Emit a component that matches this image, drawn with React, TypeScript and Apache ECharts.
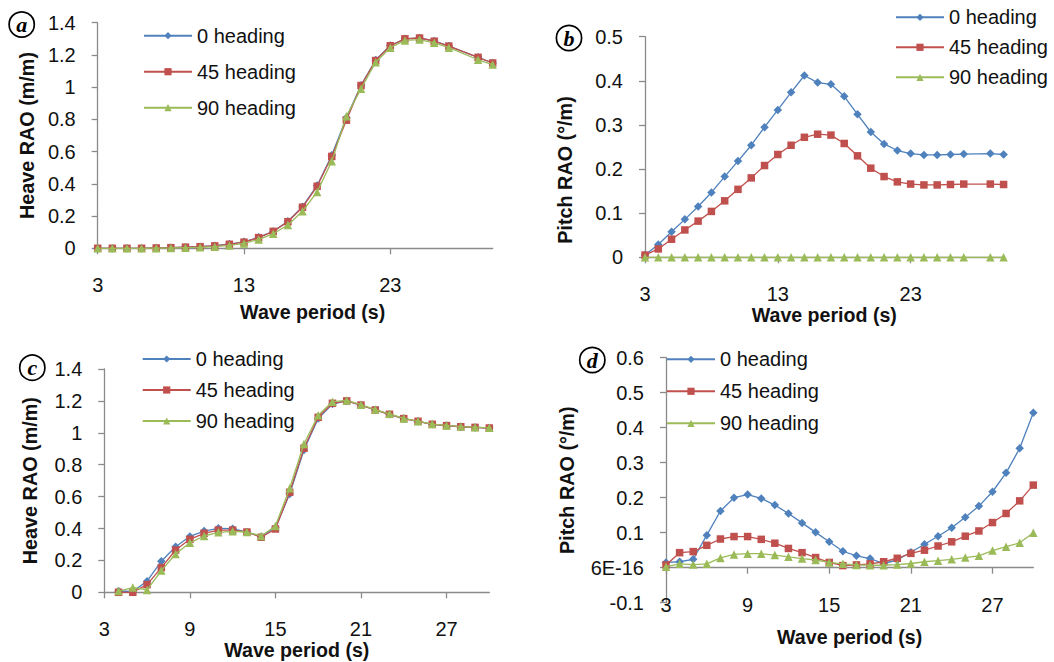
import React, { useEffect, useRef } from "react";
import * as echarts from "echarts";

// ---------- data ----------
const headingNames = ["0 heading", "45 heading", "90 heading"];

// Panel a: heave RAO
const periodsA = [3, 4, 5, 6, 7, 8, 9, 10, 11, 12, 13, 14, 15, 16, 17, 18, 19, 20, 21, 22, 23, 24, 25, 26, 27, 29, 30];
const heaveA0 = [0, 0, 0, 0, 0.002, 0.004, 0.007, 0.01, 0.016, 0.026, 0.04, 0.068, 0.105, 0.168, 0.258, 0.39, 0.578, 0.81, 1.012, 1.168, 1.258, 1.3, 1.305, 1.287, 1.255, 1.185, 1.15];
const heaveA45 = [0, 0, 0, 0, 0.002, 0.004, 0.007, 0.01, 0.015, 0.025, 0.038, 0.066, 0.105, 0.165, 0.255, 0.385, 0.57, 0.795, 1.01, 1.165, 1.257, 1.3, 1.305, 1.285, 1.255, 1.185, 1.15];
const heaveA90 = [0, 0, 0, 0, 0.001, 0.002, 0.004, 0.006, 0.01, 0.018, 0.03, 0.055, 0.09, 0.145, 0.23, 0.35, 0.54, 0.82, 0.99, 1.155, 1.245, 1.29, 1.295, 1.275, 1.245, 1.17, 1.14];

// Panel b: pitch RAO
const periodsB = [3, 4, 5, 6, 7, 8, 9, 10, 11, 12, 13, 14, 15, 16, 17, 18, 19, 20, 21, 22, 23, 24, 25, 26, 27, 29, 30];
const pitchB0 = [0.005, 0.029, 0.058, 0.086, 0.115, 0.147, 0.183, 0.218, 0.254, 0.295, 0.334, 0.374, 0.412, 0.396, 0.392, 0.365, 0.324, 0.284, 0.257, 0.242, 0.235, 0.232, 0.232, 0.233, 0.234, 0.235, 0.233];
const pitchB45 = [0.005, 0.019, 0.041, 0.062, 0.082, 0.104, 0.128, 0.154, 0.18, 0.208, 0.233, 0.254, 0.272, 0.279, 0.277, 0.258, 0.23, 0.202, 0.183, 0.171, 0.166, 0.164, 0.164, 0.165, 0.166, 0.166, 0.165];
const pitchB90 = [0, 0, 0, 0, 0, 0, 0, 0, 0, 0, 0, 0, 0, 0, 0, 0, 0, 0, 0, 0, 0, 0, 0, 0, 0, 0, 0];

// Panel c: heave RAO
const periodsC = [4, 5, 6, 7, 8, 9, 10, 11, 12, 13, 14, 15, 16, 17, 18, 19, 20, 21, 22, 23, 24, 25, 26, 27, 28, 29, 30];
const heaveC0 = [0.008, 0.005, 0.07, 0.195, 0.286, 0.35, 0.384, 0.401, 0.399, 0.378, 0.349, 0.405, 0.616, 0.892, 1.09, 1.18, 1.2, 1.174, 1.143, 1.116, 1.089, 1.072, 1.053, 1.045, 1.038, 1.034, 1.03];
const heaveC45 = [0, 0, 0.048, 0.155, 0.265, 0.332, 0.37, 0.39, 0.39, 0.378, 0.345, 0.397, 0.627, 0.903, 1.097, 1.185, 1.2, 1.174, 1.143, 1.116, 1.089, 1.072, 1.053, 1.045, 1.038, 1.034, 1.03];
const heaveC90 = [0.008, 0.03, 0.015, 0.136, 0.24, 0.31, 0.353, 0.376, 0.382, 0.378, 0.353, 0.416, 0.652, 0.93, 1.11, 1.195, 1.203, 1.176, 1.146, 1.119, 1.09, 1.073, 1.055, 1.046, 1.039, 1.035, 1.031];

// Panel d: pitch RAO
const periodsD = [3, 4, 5, 6, 7, 8, 9, 10, 11, 12, 13, 14, 15, 16, 17, 18, 19, 20, 21, 22, 23, 24, 25, 26, 27, 28, 29, 30];
const pitchD0 = [0.015, 0.017, 0.024, 0.093, 0.162, 0.2, 0.209, 0.198, 0.179, 0.155, 0.128, 0.101, 0.074, 0.047, 0.034, 0.026, 0.012, 0.022, 0.044, 0.067, 0.09, 0.114, 0.144, 0.176, 0.217, 0.271, 0.341, 0.443];
const pitchD45 = [0.008, 0.043, 0.046, 0.064, 0.082, 0.089, 0.089, 0.081, 0.07, 0.055, 0.043, 0.029, 0.015, 0.006, 0.008, 0.011, 0.017, 0.027, 0.041, 0.05, 0.062, 0.074, 0.09, 0.105, 0.129, 0.155, 0.191, 0.236];
const pitchD90 = [0.003, 0.011, 0.009, 0.011, 0.028, 0.038, 0.04, 0.04, 0.036, 0.031, 0.026, 0.022, 0.015, 0.011, 0.008, 0.007, 0.007, 0.009, 0.012, 0.017, 0.02, 0.024, 0.029, 0.034, 0.049, 0.06, 0.071, 0.1];

// Tick labels
const xTicksAB = [3, 13, 23];
const xTicksCD = [3, 9, 15, 21, 27];
const yLabelsD = ["-0.1", "6E-16", "0.1", "0.2", "0.3", "0.4", "0.5", "0.6"];
const panelLetters = ["a", "b", "c", "d"];
const axisTitles = { x: "Wave period (s)", heave: "Heave RAO (m/m)", pitch: "Pitch RAO (°/m)" };

// ---------- styling ----------
const FONT = '"Liberation Sans", Arial, sans-serif';
const COLORS = ["#4F81BD", "#C0504D", "#9BBB59"];
const SYMBOLS = ["diamond", "rect", "triangle"];
const SYMSIZE = [8.5, 7.5, 8.5];
const AXIS_COLOR = "#8a8a8a";
const TEXT_COLOR = "#111";

function xAxis(gridIndex: number, ticks: number[], nameGap: number, namePadding: number[], labelMargin: number) {
  return {
    type: "value",
    gridIndex,
    min: 3,
    max: 30,
    name: axisTitles.x,
    nameLocation: "middle",
    nameGap,
    nameTextStyle: { fontFamily: FONT, fontWeight: "bold", fontSize: 19.6, color: TEXT_COLOR, padding: namePadding },
    axisLine: { show: true, onZero: true, onZeroAxisIndex: gridIndex, lineStyle: { color: AXIS_COLOR, width: 1.3 } },
    axisTick: { show: true, length: 6, customValues: ticks, lineStyle: { color: AXIS_COLOR, width: 1.3 } },
    axisLabel: { customValues: ticks, margin: labelMargin, fontFamily: FONT, fontSize: 20, color: TEXT_COLOR },
    splitLine: { show: false },
  };
}

function yAxis(gridIndex: number, max: number, interval: number, min: number, name: string, nameGap: number, namePadding: number[], formatter?: any) {
  return {
    type: "value",
    gridIndex,
    min,
    max,
    interval,
    name,
    nameLocation: "middle",
    nameGap,
    nameTextStyle: { fontFamily: FONT, fontWeight: "bold", fontSize: 19.8, color: TEXT_COLOR, padding: namePadding },
    axisLine: { show: true, onZero: false, lineStyle: { color: AXIS_COLOR, width: 1.3 } },
    axisTick: { show: true, length: 6, lineStyle: { color: AXIS_COLOR, width: 1.3 } },
    axisLabel: { margin: 22, fontFamily: FONT, fontSize: 20, color: TEXT_COLOR, formatter },
    splitLine: { show: false },
  };
}

function seriesFor(idx: number, periods: number[], sets: number[][]) {
  return sets.map((vals, k) => ({
    type: "line",
    name: headingNames[k],
    xAxisIndex: idx,
    yAxisIndex: idx,
    data: periods.map((p, j) => [p, vals[j]]),
    symbol: SYMBOLS[k],
    symbolSize: SYMSIZE[k],
    showSymbol: true,
    clip: false,
    itemStyle: { color: COLORS[k] },
    lineStyle: { color: COLORS[k], width: 1.3 },
    z: 2 + k,
  }));
}

function legend(left: number, top: number, itemGap: number) {
  return {
    orient: "vertical",
    left,
    top,
    padding: 0,
    itemWidth: 48,
    itemHeight: 9,
    itemGap,
    data: headingNames,
    textStyle: { fontFamily: FONT, fontSize: 20, lineHeight: 20, color: TEXT_COLOR },
    selectedMode: false,
  };
}

function letterBadge(cx: number, cy: number, letter: string) {
  return [
    { type: "circle", shape: { cx, cy, r: 12.6 }, style: { fill: "#fff", stroke: "#000", lineWidth: 1.7 }, z: 10 },
    {
      type: "text",
      x: cx,
      y: cy,
      style: {
        text: letter,
        fill: "#000",
        font: 'italic bold 22px "Liberation Serif", "Times New Roman", serif',
        align: "center",
        verticalAlign: "middle",
      },
      z: 11,
    },
  ];
}

export default function App() {
  const ref = useRef<HTMLDivElement>(null);

  useEffect(() => {
    if (!ref.current) return;
    const chart = echarts.init(ref.current, undefined, { renderer: "svg" });
    const gridBase = { outerBoundsMode: "none", containLabel: false };
    const option = {
      animation: false,
      backgroundColor: "#fff",
      grid: [
        { ...gridBase, left: 97.7, top: 22.7, width: 395, height: 225.6 },
        { ...gridBase, left: 645, top: 36.7, width: 358.6, height: 220.6 },
        { ...gridBase, left: 104.3, top: 369, width: 385, height: 223.3 },
        { ...gridBase, left: 666, top: 357.7, width: 367.3, height: 245 },
      ],
      xAxis: [
        xAxis(0, xTicksAB, 54, [0, 0, 0, 35], 27),
        xAxis(1, xTicksAB, 43, [0, 0, 0, 0], 27),
        xAxis(2, xTicksCD, 46.5, [0, 0, 0, 0], 27),
        xAxis(3, xTicksCD, 24.5, [0, 0, 0, 0], -8),
      ],
      yAxis: [
        yAxis(0, 1.4, 0.2, 0, axisTitles.heave, 61, [0, 0, 0, 0]),
        yAxis(1, 0.5, 0.1, 0, axisTitles.pitch, 70, [0, 46, 0, 0]),
        yAxis(2, 1.4, 0.2, 0, axisTitles.heave, 64, [0, 0, 0, 0]),
        yAxis(3, 0.6, 0.1, -0.1, axisTitles.pitch, 89, [0, 0, 0, 0], (v: number) => yLabelsD[Math.round((v + 0.1) / 0.1)]),
      ],
      legend: [legend(143, 25.7, 16), legend(895, 7.3, 10), legend(141.7, 349, 11), legend(666, 349.3, 12)],
      series: [
        ...seriesFor(0, periodsA, [heaveA0, heaveA45, heaveA90]),
        ...seriesFor(1, periodsB, [pitchB0, pitchB45, pitchB90]),
        ...seriesFor(2, periodsC, [heaveC0, heaveC45, heaveC90]),
        ...seriesFor(3, periodsD, [pitchD0, pitchD45, pitchD90]),
      ],
      graphic: [
        ...letterBadge(21.7, 24.5, panelLetters[0]),
        ...letterBadge(569, 38, panelLetters[1]),
        ...letterBadge(32.3, 367.7, panelLetters[2]),
        ...letterBadge(592.3, 360, panelLetters[3]),
      ],
    };
    chart.setOption(option as any);
    return () => chart.dispose();
  }, []);

  return (
    <div
      ref={ref}
      style={{ position: "fixed", left: 0, top: 0, width: 1054, height: 662, background: "#fff" }}
    />
  );
}
